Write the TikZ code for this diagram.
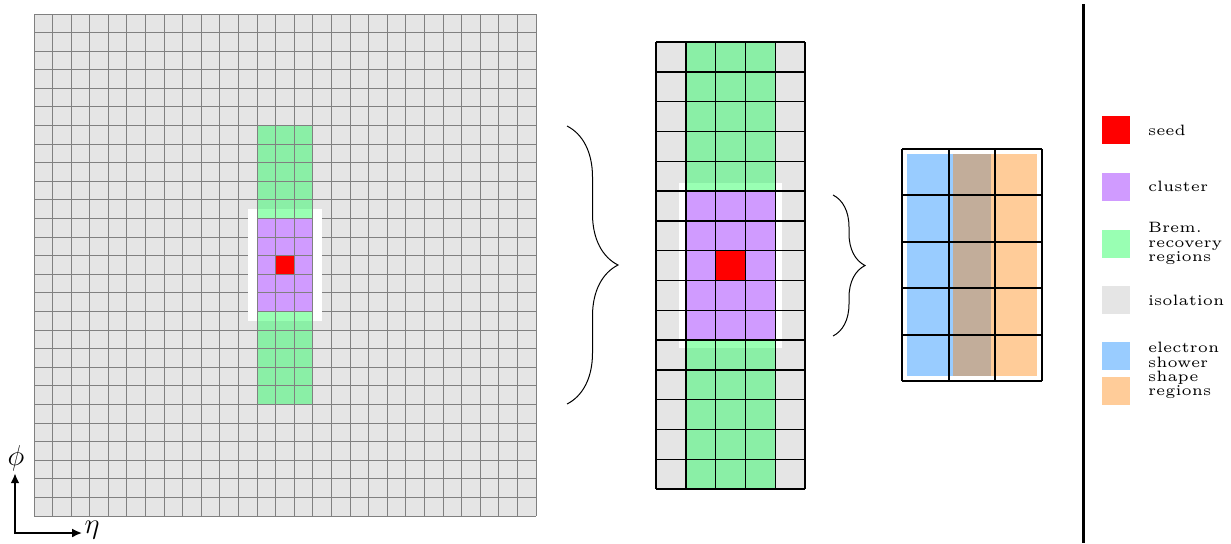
\documentclass[tikz,border=0pt]{standalone}
\usepackage{amsmath,amssymb}
\usetikzlibrary{positioning,arrows.meta,decorations.pathreplacing}

\definecolor{isocol}{HTML}{E5E5E5}
\definecolor{bremcol}{HTML}{99FFB3}
\definecolor{bremdark}{HTML}{8AEFA6}
\definecolor{clustcol}{HTML}{D09BFF}
\definecolor{seedcol}{HTML}{FF0000}
\definecolor{showercol}{HTML}{99CCFF}
\definecolor{shapecol}{HTML}{FFCC99}
\definecolor{mixcol}{HTML}{C2AD9A}

\begin{document}
\begin{tikzpicture}[x=0.5pt, y=-0.5pt,
  cellline/.style={gray, line width=0.5pt},
  legbox/.style={minimum size=14pt, inner sep=0pt},
  legtext/.style={font=\fontsize{5}{4.8}\selectfont, scale=1.5, inner sep=0pt, align=left},
  bracket/.style={decorate, line width=0.5pt},
  axis/.style={line width=1.2pt, {Latex[length=5pt,width=4.5pt]}-{Latex[length=5pt,width=4.5pt]}}]
  \useasboundingbox (0,0) rectangle (1231,543);

  % Full window: 27 x 27 cells in eta-phi
  \begin{scope}[shift={(34,14)}, x=9.2963pt, y=-9.2963pt]
    \fill[isocol] (0,0) rectangle (27,27);
    \fill[bremdark] (12,6) rectangle (15,21); % brem. recovery strip
    \fill[white] (11.5,10.5) rectangle (15.5,16.5); % isolation margin
    \fill[bremcol] (12,10.5) rectangle (15,16.5);
    \fill[clustcol] (12,11) rectangle (15,16); % cluster
    \fill[seedcol] (13,13) rectangle (14,14); % seed
    \foreach \i in {0,...,27}
      \draw[cellline] (\i,0) -- (\i,27) (0,\i) -- (27,\i);
    \fill[white] (11.5,10.5) rectangle (11.97,16.5);
    \fill[white] (15.03,10.5) rectangle (15.5,16.5);
  \end{scope}

  % Zoomed strip: 5 x 15 cells
  \begin{scope}[shift={(656,42)}, x=14.9pt, y=-14.9pt]
    \fill[isocol] (0,0) rectangle (5,15);
    \fill[bremdark] (1,0) rectangle (4,15);
    \fill[white] (0.77,4.72) rectangle (4.23,10.28);
    \fill[bremcol] (1,4.72) rectangle (4,10.28);
    \fill[clustcol] (1,5) rectangle (4,10);
    \fill[seedcol] (2,7) rectangle (3,8);
    \foreach \i in {0,...,5}
      \draw[black, line width=0.7pt] (\i,0) -- (\i,15);
    \foreach \j in {0,...,15}
      \draw[black, line width=0.7pt] (0,\j) -- (5,\j);
  \end{scope}

  % Cluster: 3 x 5 cells, shower shape regions
  \begin{scope}[shift={(902,149)}, x=23.333pt, y=-23.2pt]
    \fill[showercol] (0.1,0.1) rectangle (1.9,4.9);
    \fill[shapecol] (1.1,0.1) rectangle (2.9,4.9);
    \fill[mixcol] (1.1,0.1) rectangle (1.9,4.9); % overlap
    \foreach \i in {0,...,3}
      \draw[black, line width=1pt] (\i,0) -- (\i,5);
    \foreach \j in {0,...,5}
      \draw[black, line width=1pt] (0,\j) -- (3,\j);
  \end{scope}

  % Braces
  \coordinate (braceAtop) at (567,126);
  \coordinate (braceAbot) at (567,404);
  \coordinate (braceBtop) at (833,195);
  \coordinate (braceBbot) at (833,336);
  \draw[bracket, decoration={brace, amplitude=25.5pt}] (braceAtop) -- (braceAbot);
  \draw[bracket, decoration={brace, amplitude=16pt}] (braceBtop) -- (braceBbot);

  % Axes
  \node[inner sep=1pt, font=\Large] (phi) at (16,458) {$\phi$};
  \node[inner sep=1pt, font=\Large] (eta) at (92,530) {$\eta$};
  \coordinate (orig) at (15,533);
  \draw[axis] (orig |- phi.south) -- (orig) -- (orig -| eta.west);

  % Separator
  \coordinate (septop) at (1083,4);
  \coordinate (sepbot) at (1083,543);
  \draw[line width=1.5pt] (septop) -- (sepbot);

  % Legend
  \node[legbox, fill=seedcol] (seedbox) at (1116,130) {};
  \node[legbox, fill=clustcol, below=14pt of seedbox] (clustbox) {};
  \node[legbox, fill=bremcol, below=14pt of clustbox] (brembox) {};
  \node[legbox, fill=isocol, below=14pt of brembox] (isobox) {};
  \node[legbox, fill=showercol, below=13.5pt of isobox] (showerbox) {};
  \node[legbox, fill=shapecol, below=3pt of showerbox] (shapebox) {};
  \node[legtext, right=8.5pt of seedbox] (seedtxt) {seed};
  \node[legtext, right=8.5pt of clustbox] (clusttxt) {cluster};
  \node[legtext, right=8.5pt of brembox] (bremtxt) {Brem.\\recovery\\regions};
  \node[legtext, right=8.5pt of isobox] (isotxt) {isolation};
  \node[legtext, right=8.5pt of showerbox.south east] (showertxt) {electron\\shower\\shape\\regions};
\end{tikzpicture}
\end{document}
